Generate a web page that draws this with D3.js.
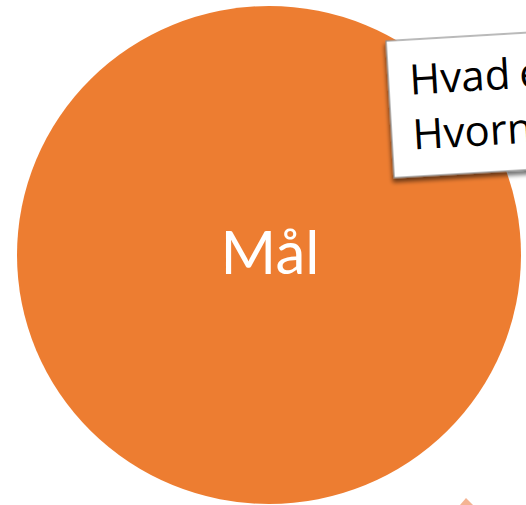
<!DOCTYPE html>
<html>
<head>
<meta charset="utf-8">
<script src="https://cdn.jsdelivr.net/npm/d3@7"></script>
<style>
  body { margin: 0; background: #fff; }
  svg { display: block; }
</style>
</head>
<body>
<div id="chart"></div>
<script>
var width = 526, height = 505;

// main goal circle
var circleLabel = ["Mål"];
var circleColor = ["#ED7D31"];

// note box lines (cut by the page edge)
var noteLines = ["Hvad er målet?", "Hvornår er det nået?"];

// tip of the next (light) shape peeking in at the bottom
var peekShape = [[460, 505], [466, 498], [473, 505]];

var svg = d3.select("#chart").append("svg")
    .attr("width", width)
    .attr("height", height);

var defs = svg.append("defs");
var shadow = defs.append("filter").attr("id", "shadow")
    .attr("x", "-10%").attr("y", "-10%").attr("width", "130%").attr("height", "130%");
shadow.append("feGaussianBlur").attr("in", "SourceAlpha").attr("stdDeviation", 2).attr("result", "b");
shadow.append("feOffset").attr("in", "b").attr("dx", -1).attr("dy", 4).attr("result", "o");
shadow.append("feComponentTransfer").attr("in", "o").attr("result", "s")
  .append("feFuncA").attr("type", "linear").attr("slope", 0.55);
var merge = shadow.append("feMerge");
merge.append("feMergeNode").attr("in", "s");
merge.append("feMergeNode").attr("in", "SourceGraphic");

svg.append("polygon")
    .attr("points", peekShape.map(function (p) { return p.join(","); }).join(" "))
    .style("fill", "#F4B493");

var goal = svg.selectAll(".goal")
    .data(circleLabel)
    .enter().append("g")
    .attr("class", "goal");

goal.append("ellipse")
    .attr("cx", 269)
    .attr("cy", 255)
    .attr("rx", 252)
    .attr("ry", 249)
    .style("fill", function (d, i) { return circleColor[i]; });

goal.append("text")
    .text(function (d) { return d; })
    .attr("x", 270)
    .attr("y", 274)
    .style("text-anchor", "middle")
    .style("font-family", "Lato, 'Open Sans', sans-serif")
    .style("font-size", "60px")
    .style("fill", "#fff");

var note = svg.append("g")
    .attr("transform", "translate(386,41) rotate(-3.4)");

note.append("rect")
    .attr("x", 0).attr("y", 0)
    .attr("width", 420).attr("height", 137)
    .style("fill", "#fff")
    .style("stroke", "#8c8c8c")
    .style("stroke-width", 1.2)
    .attr("filter", "url(#shadow)");

note.selectAll(".noteLine")
    .data(noteLines)
    .enter().append("text")
    .attr("class", "noteLine")
    .text(function (d) { return d; })
    .attr("x", 21)
    .attr("y", function (d, i) { return 55 + i * 55; })
    .style("font-family", "'Open Sans', Lato, sans-serif")
    .style("font-size", "42px")
    .style("word-spacing", "-2px")
    .style("fill", "#000");
</script>
</body>
</html>
